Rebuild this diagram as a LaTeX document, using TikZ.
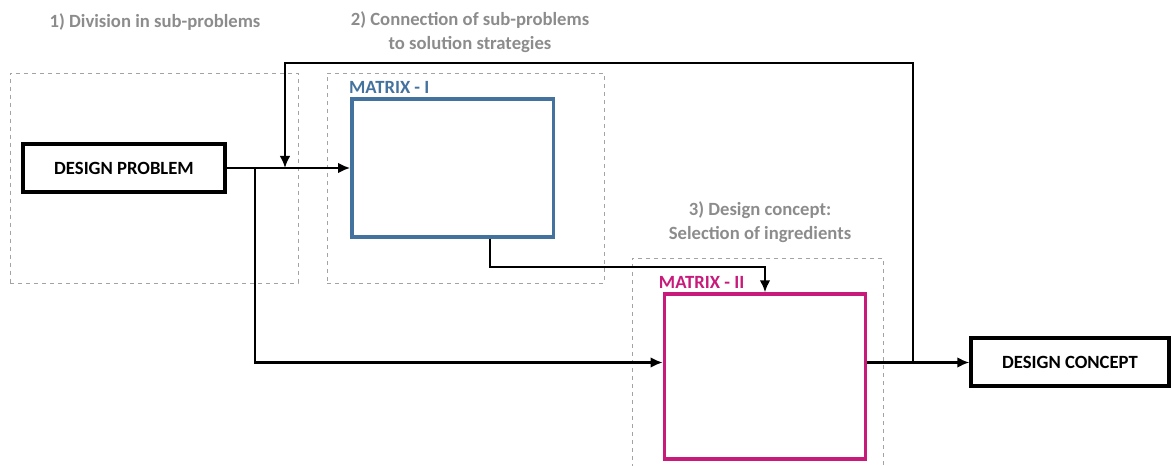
\documentclass[tikz,border=0pt]{standalone}
\usepackage{fontspec}
\setmainfont{Carlito}
\usepackage{xcolor}
\usetikzlibrary{shapes,arrows,arrows.meta,positioning,fit}

\definecolor{phasegray}{RGB}{140,140,140}
\definecolor{matrixblue}{RGB}{68,114,158}
\definecolor{matrixpink}{RGB}{199,26,122}

\begin{document}
\begin{tikzpicture}[
    x=0.75pt, y=-0.75pt,
    phase/.style={rectangle, draw=phasegray!80, dashed, line width=0.6pt},
    title/.style={align=center, text=phasegray, font=\bfseries\fontsize{14}{18}\selectfont},
    box/.style={rectangle, draw, line width=3pt, minimum width=151pt, minimum height=36pt, align=center, font=\bfseries\fontsize{14}{17}\selectfont},
    matbox/.style={rectangle, draw, fill=white, line width=2.5pt, minimum width=151pt},
    matlabel/.style={anchor=south west, inner sep=0pt, font=\bfseries\fontsize{14}{17}\selectfont},
    arrow/.style={->, >={Latex[length=9pt, width=8pt]}, line width=1.7pt}
]
\useasboundingbox (0,0) rectangle (1171,466);

% Dashed phases
\node[phase, minimum width=216pt, minimum height=157.5pt] (stage1) at (154,178) {};
\node[phase, minimum width=207.75pt, minimum height=157.5pt] (stage2) at (465.5,178) {};
\node[phase, minimum width=188.25pt, minimum height=159pt] (stage3) at (757.5,364) {};

% Phase titles
\node[title] (t1) at (155,22) {1) Division in sub-problems};
\node[title] (t2) at (470,32) {2) Connection of sub-problems\\to solution strategies};
\node[title] (t3) at (760,222) {3) Design concept:\\Selection of ingredients};

% Input and output
\node[box] (problem) at (124,168) {DESIGN PROBLEM};
\node[box, minimum width=148pt] (concept) at (1070,362.5) {DESIGN CONCEPT};

% Matrix I
\node[matbox, draw=matrixblue, minimum height=103.5pt] (matrixI) at (452.5,168) {};
\node[matlabel, text=matrixblue] (labI) at ([xshift=-1pt, yshift=3pt]matrixI.north west) {MATRIX - I};

% Matrix II
\node[matbox, draw=matrixpink, minimum height=123.75pt] (matrixII) at (765,376.5) {};
\node[matlabel, text=matrixpink] (labII) at ([xshift=-3pt, yshift=3pt]matrixII.north west) {MATRIX - II};

% Junctions
\coordinate (split) at (255,168);
\coordinate (merge) at (285,168);
\coordinate (tap) at (913,362.5);
\coordinate (top) at (913,63);
\coordinate (exitI) at (490,168);

% Arrows
\draw[arrow] (problem.east) -- (matrixI.west);
\draw[arrow] (split) |- (matrixII.west |- concept.west);
\draw[arrow] (matrixII.east |- concept.west) -- (concept.west);
\draw[arrow] (tap) -- (top) -| (merge);
\draw[arrow] (exitI |- matrixI.south) -- ++(0,28) -| (matrixII.north);

\end{tikzpicture}
\end{document}
